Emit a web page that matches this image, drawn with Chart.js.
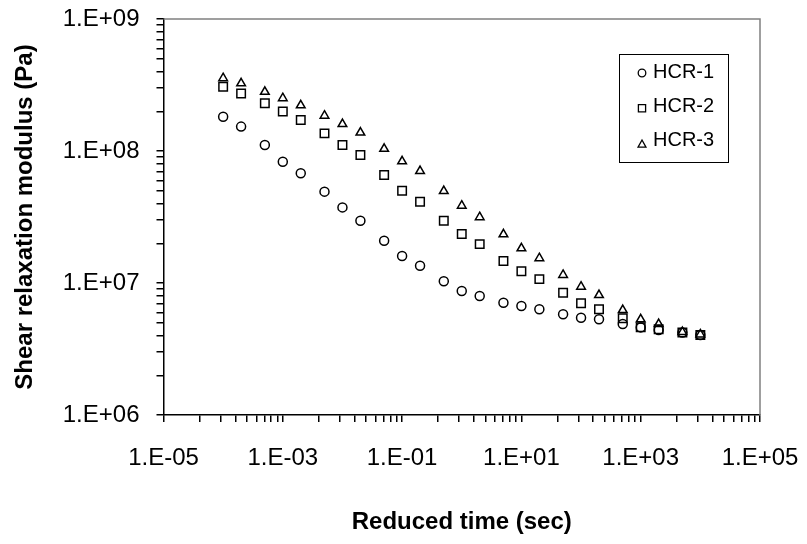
<!DOCTYPE html>
<html>
<head>
<meta charset="utf-8">
<script src="https://cdn.jsdelivr.net/npm/chart.js"></script>
<style>
  body { margin: 0; background: #fff; }
</style>
</head>
<body>
<canvas id="chart" width="807" height="544"></canvas>
<script>
// reduced time (sec)
const times = [1e-4, 2e-4, 5e-4, 1e-3, 2e-3, 5e-3, 1e-2, 2e-2, 5e-2, 0.1, 0.2, 0.5,
  1, 2, 5, 10, 20, 50, 100, 200, 500, 1000, 2000, 5000, 10000];

// shear relaxation modulus (Pa)
const hcr1 = [1.82e8, 1.53e8, 1.11e8, 8.30e7, 6.78e7, 4.92e7, 3.74e7, 2.96e7, 2.09e7, 1.60e7,
  1.35e7, 1.03e7, 8.69e6, 7.97e6, 7.09e6, 6.70e6, 6.32e6, 5.80e6, 5.46e6, 5.31e6,
  4.89e6, 4.61e6, 4.40e6, 4.21e6, 4.04e6];
const hcr2 = [3.07e8, 2.73e8, 2.30e8, 1.99e8, 1.72e8, 1.36e8, 1.11e8, 9.33e7, 6.58e7, 5.00e7,
  4.13e7, 2.96e7, 2.35e7, 1.97e7, 1.47e7, 1.23e7, 1.07e7, 8.45e6, 7.02e6, 6.32e6,
  5.41e6, 4.62e6, 4.46e6, 4.21e6, 4.04e6];
const hcr3 = [3.56e8, 3.26e8, 2.81e8, 2.51e8, 2.22e8, 1.85e8, 1.60e8, 1.38e8, 1.04e8, 8.36e7,
  7.05e7, 4.97e7, 3.85e7, 3.15e7, 2.34e7, 1.83e7, 1.54e7, 1.15e7, 9.38e6, 8.11e6,
  6.24e6, 5.31e6, 4.89e6, 4.25e6, 4.08e6];

const xTickValues = [1e-5, 1e-3, 1e-1, 1e1, 1e3, 1e5];
const xTickLabels = ["1.E-05", "1.E-03", "1.E-01", "1.E+01", "1.E+03", "1.E+05"];
const yTickValues = [1e6, 1e7, 1e8, 1e9];
const yTickLabels = ["1.E+06", "1.E+07", "1.E+08", "1.E+09"];

const FONT = '"Liberation Sans", Arial, sans-serif';

function pts(vals) {
  return times.map((t, i) => ({ x: t, y: vals[i] }));
}

function labelFor(values, labels, v) {
  const k = values.findIndex(t => Math.abs(Math.log10(t) - Math.log10(v)) < 1e-6);
  return k >= 0 ? labels[k] : "";
}

// major ticks plus minor ones (x axis steps two decades, minors at j^2)
function xTicks() {
  const out = [];
  xTickValues.forEach((v, i) => {
    out.push({ value: v });
    if (i < xTickValues.length - 1) {
      for (let j = 2; j <= 9; j++) out.push({ value: v * j * j });
    }
  });
  return out;
}
function yTicks() {
  const out = [];
  yTickValues.forEach((v, i) => {
    out.push({ value: v });
    if (i < yTickValues.length - 1) {
      for (let j = 2; j <= 9; j++) out.push({ value: v * j });
    }
  });
  return out;
}

// chart.js adds label overflow to the layout; keep the plot box fixed instead
function noPad(axis) {
  axis.paddingLeft = 0;
  axis.paddingRight = 0;
  axis.paddingTop = 0;
  axis.paddingBottom = 0;
}

function drawMarker(ctx, style, x, y, r) {
  ctx.beginPath();
  if (style === "circle") {
    ctx.arc(x, y, r, 0, Math.PI * 2);
  } else if (style === "rect") {
    ctx.rect(x - r, y - r, 2 * r, 2 * r);
  } else {
    ctx.moveTo(x, y - r);
    ctx.lineTo(x + r * 1.1, y + r);
    ctx.lineTo(x - r * 1.1, y + r);
    ctx.closePath();
  }
  ctx.stroke();
}

const frame = {
  id: "frame",
  afterDraw(chart) {
    const { ctx, chartArea: a } = chart;
    ctx.save();
    ctx.strokeStyle = "#808080";
    ctx.lineWidth = 1.5;
    ctx.beginPath();
    ctx.moveTo(a.left, a.top);
    ctx.lineTo(a.right, a.top);
    ctx.lineTo(a.right, a.bottom);
    ctx.stroke();

    // legend box
    const bx = 619.5, by = 54.5, bw = 109, bh = 108;
    ctx.strokeStyle = "#000";
    ctx.lineWidth = 1;
    ctx.strokeRect(bx, by, bw, bh);
    ctx.font = "20px " + FONT;
    ctx.fillStyle = "#000";
    ctx.textBaseline = "middle";
    ctx.textAlign = "left";
    chart.data.datasets.forEach((ds, i) => {
      const ty = 72 + i * 34.3;
      ctx.lineWidth = 1.3;
      drawMarker(ctx, ds.pointStyle, 642, ty + 1 + i, ds.pointStyle === "circle" ? 3.8 : 3.6);
      ctx.fillText(ds.label, 653, ty);
    });
    ctx.restore();
  }
};

const gridOpts = {
  drawOnChartArea: false,
  drawTicks: true,
  tickLength: 7,
  color: "#000",
  lineWidth: 1.5,
  tickColor: "#000",
  tickWidth: 1.5,
};

new Chart(document.getElementById("chart").getContext("2d"), {
  type: "scatter",
  data: {
    datasets: [
      { label: "HCR-1", data: pts(hcr1), pointStyle: "circle", pointRadius: 4.5 },
      { label: "HCR-2", data: pts(hcr2), pointStyle: "rect", pointRadius: 6 },
      { label: "HCR-3", data: pts(hcr3), pointStyle: "triangle", pointRadius: 5 },
    ].map(d => Object.assign(d, {
      borderColor: "#000",
      backgroundColor: "rgba(0,0,0,0)",
      borderWidth: 1.5,
      pointHoverRadius: d.pointRadius,
    })),
  },
  options: {
    responsive: false,
    animation: false,
    layout: { padding: { left: 0, top: 19, right: 47, bottom: 0 } },
    plugins: {
      legend: { display: false },
      tooltip: { enabled: false },
    },
    scales: {
      x: {
        type: "logarithmic",
        min: 1e-5,
        max: 1e5,
        afterBuildTicks: axis => { axis.ticks = xTicks(); },
        afterFit: axis => { axis.height = 129; noPad(axis); },
        grid: gridOpts,
        border: { display: true, color: "#000", width: 1.5 },
        ticks: {
          autoSkip: false,
          maxRotation: 0,
          padding: 22,
          color: "#000",
          font: { family: FONT, size: 24 },
          callback: v => labelFor(xTickValues, xTickLabels, v),
        },
        title: {
          display: true,
          text: "Reduced time (sec)",
          color: "#000",
          font: { family: FONT, size: 24, weight: "bold" },
          padding: { top: 0, bottom: 7 },
        },
      },
      y: {
        type: "logarithmic",
        min: 1e6,
        max: 1e9,
        afterBuildTicks: axis => { axis.ticks = yTicks(); },
        afterFit: axis => { axis.width = 163.5; noPad(axis); },
        grid: gridOpts,
        border: { display: true, color: "#000", width: 1.5 },
        ticks: {
          autoSkip: false,
          padding: 17,
          color: "#000",
          font: { family: FONT, size: 24 },
          callback: v => labelFor(yTickValues, yTickLabels, v),
        },
        title: {
          display: true,
          text: "Shear relaxation modulus (Pa)",
          color: "#000",
          font: { family: FONT, size: 24, weight: "bold" },
          padding: { top: 11, bottom: 0 },
        },
      },
    },
  },
  plugins: [frame],
});
</script>
</body>
</html>
